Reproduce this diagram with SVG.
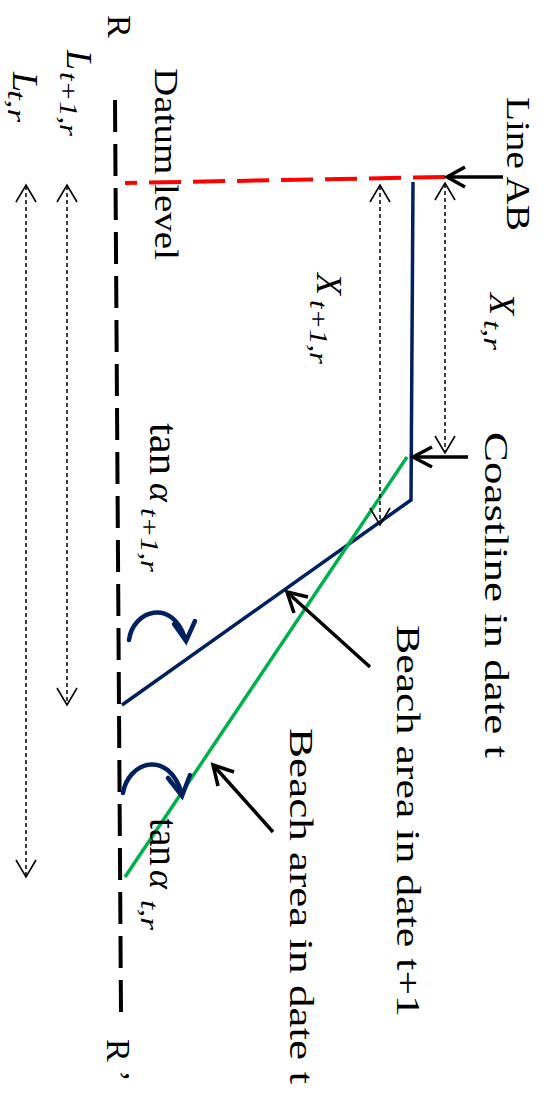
<svg xmlns="http://www.w3.org/2000/svg" width="548" height="1097" viewBox="0 0 548 1097">
<style>
.lbl{font-family:"Liberation Serif","Times New Roman",serif;font-size:34px;fill:#000}
.m{font-family:"Liberation Serif","Times New Roman",serif;font-style:italic;font-size:36px;fill:#000}
.sub{font-size:26px}
.up{font-style:normal;font-size:41px}
.dash{stroke:#000;stroke-width:1.5;stroke-dasharray:4 3;fill:none}
.head{stroke:#000;stroke-width:1.6;fill:none}
.arr{stroke:#000;stroke-width:3.5;fill:none}
.curve{stroke:#002060;stroke-width:4.5;fill:none;stroke-linecap:round}
</style>
<rect width="548" height="1097" fill="#fff"/>
<g id="datum-line"><line x1="115" y1="100" x2="121" y2="1013" stroke="#000" stroke-width="4" stroke-dasharray="32 12"/></g>
<g id="line-ab"><line x1="445" y1="177" x2="125" y2="183" stroke="#ff0000" stroke-width="4" stroke-dasharray="32 12"/></g>
<g id="profile-t1"><polyline points="413,182 411,500 122,705" stroke="#002060" stroke-width="3.5" fill="none"/></g>
<g id="profile-t"><line x1="407" y1="457" x2="125" y2="877" stroke="#00b050" stroke-width="3.5"/></g>
<g id="connectors">
  <g id="arrow-line-ab"><line class="arr" x1="503" y1="177" x2="448" y2="177"/><polyline class="arr" points="465,167 447,177 465,187"/></g>
  <g id="arrow-coastline"><line class="arr" x1="468" y1="457" x2="414" y2="457"/><polyline class="arr" points="432,447 413,457 432,467"/></g>
  <g id="arrow-beach-t1"><line class="arr" x1="370" y1="667" x2="288" y2="593"/><polyline class="arr" points="294,613 287,592 308,597"/></g>
  <g id="arrow-beach-t"><line class="arr" x1="273" y1="832" x2="214" y2="766"/><polyline class="arr" points="218,786 213,765 234,772"/></g>
  <g id="dim-x-t"><line class="dash" x1="445" y1="184" x2="445" y2="452"/><polyline class="head" points="435,200 445,183 455,200"/><polyline class="head" points="435,436 445,453 455,436"/></g>
  <g id="dim-x-t1"><line class="dash" x1="380" y1="186" x2="380" y2="524"/><polyline class="head" points="370,202 380,185 390,202"/><polyline class="head" points="370,508 380,525 390,508"/></g>
  <g id="dim-l-t1"><line class="dash" x1="67" y1="186" x2="67" y2="704"/><polyline class="head" points="57,202 67,185 77,202"/><polyline class="head" points="57,688 67,705 77,688"/></g>
  <g id="dim-l-t"><line class="dash" x1="26" y1="186" x2="26" y2="876"/><polyline class="head" points="16,202 26,185 36,202"/><polyline class="head" points="16,860 26,877 36,860"/></g>
  <g id="angle-t1"><path class="curve" d="M129,640 C133,610 172,598 185,638"/><polyline class="curve" points="174,624 186,641 195,621"/></g>
  <g id="angle-t"><path class="curve" d="M123,793 C128,762 168,748 182,794"/><polyline class="curve" points="168,778 182,796 190,775"/></g>
</g>
<g transform="rotate(90)">
  <g id="label-r"><text class="lbl" x="15" y="-108">R</text></g>
  <g id="label-r-prime"><text class="lbl" x="1039" y="-107">R ’</text></g>
  <g id="label-line-ab"><text class="lbl" x="97" y="-507" textLength="134" lengthAdjust="spacingAndGlyphs">Line AB</text></g>
  <g id="label-datum"><text class="lbl" x="68" y="-155" textLength="192" lengthAdjust="spacingAndGlyphs">Datum level</text></g>
  <g id="label-coastline"><text class="lbl" x="432" y="-485" textLength="326" lengthAdjust="spacingAndGlyphs">Coastline in date t</text></g>
  <g id="label-beach-t1"><text class="lbl" x="625" y="-397" textLength="392" lengthAdjust="spacingAndGlyphs">Beach area in date t+1</text></g>
  <g id="label-beach-t"><text class="lbl" x="728" y="-290" textLength="356" lengthAdjust="spacingAndGlyphs">Beach area in date t</text></g>
  <g id="label-x-t"><text class="m" x="293" y="-490">X</text><text class="m sub" x="320" y="-484" textLength="30" lengthAdjust="spacingAndGlyphs">t,r</text></g>
  <g id="label-x-t1"><text class="m" x="273" y="-317">X</text><text class="m sub" x="300" y="-310" textLength="64" lengthAdjust="spacingAndGlyphs">t+1,r</text></g>
  <g id="label-l-t1"><text class="m" x="50" y="-67">L</text><text class="m sub" x="72" y="-60" textLength="64" lengthAdjust="spacingAndGlyphs">t+1,r</text></g>
  <g id="label-l-t"><text class="m" x="72" y="-13">L</text><text class="m sub" x="90" y="-8" textLength="32" lengthAdjust="spacingAndGlyphs">t,r</text></g>
  <g id="label-tan-t1"><text class="m up" x="423" y="-150" textLength="52" lengthAdjust="spacingAndGlyphs">tan</text><text class="m" x="483" y="-150">α</text><text class="m sub" x="508" y="-141" textLength="64" lengthAdjust="spacingAndGlyphs">t+1,r</text></g>
  <g id="label-tan-t"><text class="m up" x="818" y="-150" textLength="48" lengthAdjust="spacingAndGlyphs">tan</text><text class="m" x="870" y="-150">α</text><text class="m sub" x="900" y="-141" textLength="30" lengthAdjust="spacingAndGlyphs">t,r</text></g>
</g>
</svg>
